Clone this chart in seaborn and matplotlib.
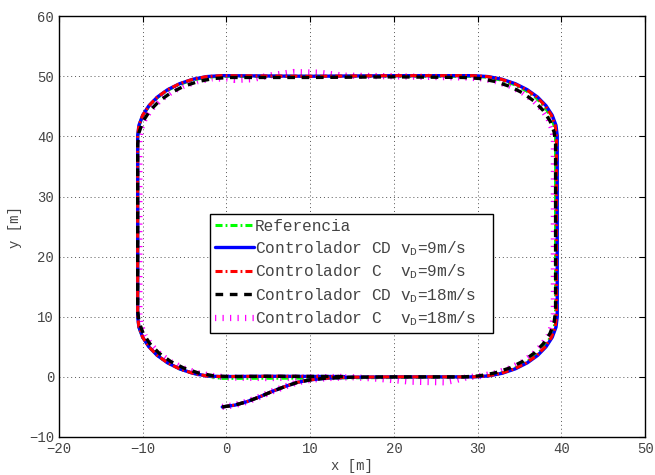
import numpy as np
import pandas as pd
import matplotlib
matplotlib.use('Agg')
import matplotlib.pyplot as plt
import seaborn as sns

# trajectories, in metres
ref_x = [-0.6, 10, 20,
         29.3, 31.04, 32.72, 34.3, 35.73, 36.96, 37.96, 38.70, 39.15, 39.3,
         39.3, 39.15, 38.70, 37.96, 36.96, 35.73, 34.3, 32.72, 31.04, 29.3,
         -0.6, -2.34, -4.02, -5.6, -7.03, -8.26, -9.26, -10.0, -10.45, -10.6,
         -10.6, -10.45, -10.0, -9.26, -8.26, -7.03, -5.6, -4.02, -2.34, -0.6]
ref_y = [-0.25, -0.2, -0.1,
         0, 0.15, 0.60, 1.34, 2.34, 3.57, 5.0, 6.58, 8.26, 10,
         40, 41.74, 43.42, 45.0, 46.43, 47.66, 48.66, 49.40, 49.85, 50,
         50, 49.85, 49.40, 48.66, 47.66, 46.43, 45.0, 43.42, 41.74, 40,
         10, 8.26, 6.58, 5.0, 3.57, 2.34, 1.34, 0.60, 0.15, -0.25]

cd9_x = [-0.5, 1, 2.5, 4, 5.5, 7, 8.5, 10, 12, 15, 20,
         29.5, 31.24, 32.92, 34.5, 35.93, 37.16, 38.16, 38.9, 39.35, 39.5,
         39.5, 39.35, 38.9, 38.16, 37.16, 35.93, 34.5, 32.92, 31.24, 29.5,
         20, 10,
         -0.6, -2.34, -4.02, -5.6, -7.03, -8.26, -9.26, -10.0, -10.45, -10.6,
         -10.6, -10.45, -10.0, -9.26, -8.26, -7.03, -5.6, -4.02, -2.34, -0.6,
         5, 14]
cd9_y = [-5.0, -4.7, -4.1, -3.3, -2.4, -1.6, -0.9, -0.5, -0.2, -0.05, 0,
         0, 0.15, 0.60, 1.34, 2.34, 3.57, 5.0, 6.58, 8.26, 10,
         40.1, 41.84, 43.52, 45.1, 46.53, 47.76, 48.76, 49.5, 49.95, 50.1,
         50.1, 50.0,
         50.1, 49.95, 49.5, 48.76, 47.76, 46.53, 45.1, 43.52, 41.84, 40.1,
         10, 8.26, 6.58, 5.0, 3.57, 2.34, 1.34, 0.60, 0.15, 0.05,
         0.1, 0.05]

c9_x = [-0.5, 1, 2.5, 4, 5.5, 7, 8.5, 10, 12, 15, 20,
        29.4, 31.14, 32.82, 34.4, 35.83, 37.06, 38.06, 38.8, 39.25, 39.4,
        39.4, 39.25, 38.8, 38.06, 37.06, 35.83, 34.4, 32.82, 31.14, 29.4,
        20, 10,
        -0.6, -2.34, -4.02, -5.6, -7.03, -8.26, -9.26, -10.0, -10.45, -10.6,
        -10.6, -10.45, -10.0, -9.26, -8.26, -7.03, -5.6, -4.02, -2.34, -0.6,
        5, 14]
c9_y = [-5.0, -4.7, -4.1, -3.3, -2.4, -1.6, -0.9, -0.5, -0.2, -0.05, 0,
        0, 0.15, 0.60, 1.34, 2.34, 3.57, 5.0, 6.58, 8.26, 10,
        40.1, 41.84, 43.52, 45.1, 46.53, 47.76, 48.76, 49.5, 49.95, 50.1,
        50.1, 50.0,
        50.1, 49.95, 49.5, 48.76, 47.76, 46.53, 45.1, 43.52, 41.84, 40.1,
        10, 8.26, 6.58, 5.0, 3.57, 2.34, 1.34, 0.60, 0.15, 0.05,
        0.1, 0.05]

cd18_x = [-0.5, 1, 2.5, 4, 5.5, 7, 8.5, 10, 12, 15, 20,
          28.3, 30.21, 32.06, 33.8, 35.37, 36.73, 37.83, 38.64, 39.13, 39.3,
          39.3, 39.13, 38.64, 37.83, 36.73, 35.37, 33.8, 32.06, 30.21, 28.3,
          20, 10,
          0.4, -1.51, -3.36, -5.1, -6.67, -8.03, -9.13, -9.94, -10.43, -10.6,
          -10.6, -10.43, -9.94, -9.13, -8.03, -6.67, -5.1, -3.36, -1.51, 0.4,
          5, 14]
cd18_y = [-5.0, -4.7, -4.1, -3.3, -2.4, -1.6, -0.9, -0.5, -0.2, -0.05, 0,
          0, 0.17, 0.66, 1.47, 2.57, 3.93, 5.5, 7.24, 9.09, 11,
          38.8, 40.71, 42.56, 44.3, 45.87, 47.23, 48.33, 49.14, 49.63, 49.8,
          49.9, 49.8,
          49.8, 49.63, 49.14, 48.33, 47.23, 45.87, 44.3, 42.56, 40.71, 38.8,
          11, 9.09, 7.24, 5.5, 3.93, 2.57, 1.47, 0.66, 0.17, 0.05,
          0.1, 0.05]

c18_x = [-0.5, 1, 2.5, 4, 5.5, 7, 8.5, 10, 12, 15, 18, 22, 26, 27.5,
         28.6, 30.42, 32.19, 33.85, 35.35, 36.64, 37.69, 38.47, 38.94, 39.1,
         39.1, 38.94, 38.47, 37.69, 36.64, 35.35, 33.85, 32.19, 30.42, 28.6,
         24, 20, 14, 11, 8, 5, 3, 1,
         0.1, -1.72, -3.49, -5.15, -6.65, -7.94, -8.99, -9.77, -10.24, -10.4,
         -10.4, -10.24, -9.77, -8.99, -7.94, -6.65, -5.15, -3.49, -1.72, 0.1,
         5, 14]
c18_y = [-5.0, -4.7, -4.1, -3.3, -2.4, -1.6, -0.9, -0.5, -0.2, -0.05, -0.3, -0.8, -0.9, -0.5,
         -0.1, 0.16, 0.63, 1.41, 2.46, 3.75, 5.25, 6.91, 8.67, 10.5,
         39.3, 41.12, 42.89, 44.55, 46.05, 47.34, 48.39, 49.17, 49.64, 49.8,
         49.9, 50.0, 50.1, 50.6, 50.7, 50.1, 49.5, 49.4,
         49.6, 49.64, 49.17, 48.39, 47.34, 46.05, 44.55, 42.89, 41.12, 39.3,
         10.5, 8.67, 6.91, 5.25, 3.75, 2.46, 1.41, 0.63, 0.16, -0.1,
         -0.2, 0.0]

labels = ['Referencia',
          'Controlador CD v$_D$=9m/s',
          'Controlador C  v$_D$=9m/s',
          'Controlador CD v$_D$=18m/s',
          'Controlador C  v$_D$=18m/s']

x_ticks = [-20, -10, 0, 10, 20, 30, 40, 50]
y_ticks = [-10, 0, 10, 20, 30, 40, 50, 60]


def plot_paths():
    fig = plt.figure(figsize=(6.55, 4.75), dpi=100)
    ax = fig.add_axes([0.090, 0.080, 0.895, 0.886])

    series = [
        (ref_x, ref_y, '#00ff00', (0, (2.3, 1.0, 0.6, 1.0)), 2.2, 2),
        (cd9_x, cd9_y, '#0000ff', '-', 2.4, 3),
        (c9_x, c9_y, '#ff0000', (0, (2.3, 1.0, 0.6, 1.0)), 2.2, 4),
        (cd18_x, cd18_y, '#000000', (0, (2.3, 2.0)), 2.4, 5),
        (c18_x, c18_y, '#ff00ff', (0, (0.2, 1.0)), 4.5, 1.8),
    ]
    handles = []
    for (x, y, color, ls, lw, z), lab in zip(series, labels):
        df = pd.DataFrame({'x': x, 'y': y})
        sns.lineplot(data=df, x='x', y='y', sort=False, estimator=None, color=color,
                     linestyle=ls, lw=lw, zorder=z, ax=ax)
        line = ax.lines[-1]
        line.set_label(lab)
        line.set_dash_capstyle('butt')
        handles.append(line)

    ax.set_xlim(-20, 50)
    ax.set_ylim(-10, 60)
    ax.set_xticks(x_ticks)
    ax.set_yticks(y_ticks)
    ax.grid(True, color='#555555', linestyle=(0, (1, 3)), lw=0.7)
    ax.tick_params(direction='in', length=4, top=True, right=True, labelsize=10,
                   labelcolor='#444444', color='black', width=0.8)
    for s in ax.spines.values():
        s.set_color('black')
        s.set_linewidth(1.0)
    ax.set_xlabel('x [m]', fontsize=10, color='#444444', labelpad=2)
    ax.set_ylabel('y [m]', fontsize=10, color='#444444', labelpad=5)

    leg = ax.legend(handles=handles, loc='lower left', bbox_to_anchor=(0.258, 0.247, 0.483, 0.285),
                    mode='expand', fontsize=11.6, handlelength=2.4, handletextpad=0.05,
                    labelspacing=0.3, borderpad=0.3, borderaxespad=0, fancybox=False, framealpha=1)
    leg.get_frame().set_edgecolor('black')
    leg.get_frame().set_linewidth(1.0)
    for t in leg.get_texts():
        t.set_color('#444444')
    return fig


def main():
    sns.set_style('white')
    plt.rcParams['font.family'] = ['Liberation Mono', 'DejaVu Sans Mono']
    plt.rcParams['mathtext.default'] = 'regular'
    fig = plot_paths()
    fig.savefig('out.png', dpi=100)


if __name__ == '__main__':
    main()
